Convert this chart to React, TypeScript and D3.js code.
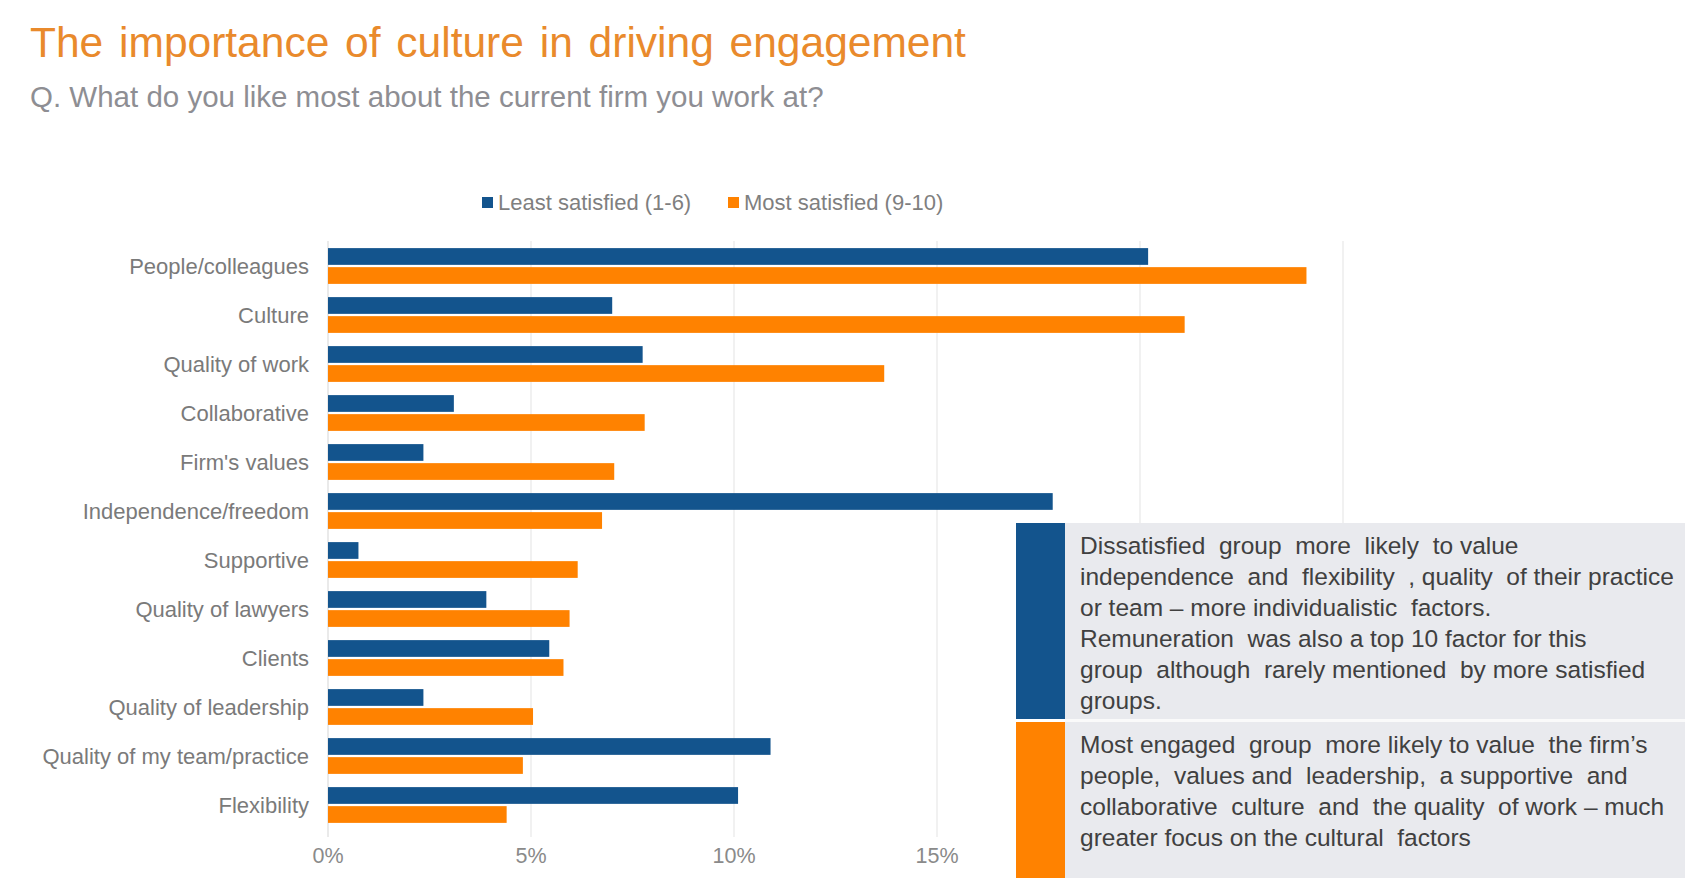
import React from "react";
import * as d3 from "d3";

const categories = [
  "People/colleagues",
  "Culture",
  "Quality of work",
  "Collaborative",
  "Firm's values",
  "Independence/freedom",
  "Supportive",
  "Quality of lawyers",
  "Clients",
  "Quality of leadership",
  "Quality of my team/practice",
  "Flexibility",
];
const leastSatisfied = [20.2, 7.0, 7.75, 3.1, 2.35, 17.85, 0.75, 3.9, 5.45, 2.35, 10.9, 10.1];
const mostSatisfied = [24.1, 21.1, 13.7, 7.8, 7.05, 6.75, 6.15, 5.95, 5.8, 5.05, 4.8, 4.4];
const seriesNames = ["Least satisfied (1-6)", "Most satisfied (9-10)"];
const xTicks = [0, 5, 10, 15, 20, 25];
const xTickLabels = ["0%", "5%", "10%", "15%"];
const calloutTop = [
  "Dissatisfied  group  more  likely  to value",
  "independence  and  flexibility  , quality  of their practice",
  "or team – more individualistic  factors.",
  "Remuneration  was also a top 10 factor for this",
  "group  although  rarely mentioned  by more satisfied",
  "groups.",
];
const calloutBottom = [
  "Most engaged  group  more likely to value  the firm’s",
  "people,  values and  leadership,  a supportive  and",
  "collaborative  culture  and  the quality  of work – much",
  "greater focus on the cultural  factors",
];

const BLUE = "#13548d";
const ORANGE = "#ff8200";
const FONT = "'Liberation Sans', Arial, sans-serif";

export default function App() {
  const W = 1704;
  const H = 895;
  const x = d3.scaleLinear().domain([0, 25]).range([328, 1343]);
  const y = d3.scaleBand<string>().domain(categories).range([241.5, 829.5]).paddingInner(0.27).paddingOuter(0.135);
  const inner = d3.scaleBand<number>().domain([0, 1]).range([0, y.bandwidth()]).paddingInner(0.12).paddingOuter(0);
  const values = [leastSatisfied, mostSatisfied];
  const colors = [BLUE, ORANGE];

  return (
    <svg width={W} height={H} style={{ position: "absolute", left: 0, top: 0, background: "#fff" }} fontFamily={FONT}>
      <rect x={0} y={0} width={W} height={H} fill="#fff" />
      <text x={30} y={57} fontSize={42.5} fill="#e98a2c" wordSpacing={4}>
        The importance of culture in driving engagement
      </text>
      <text x={30} y={107} fontSize={29.5} fill="#8e8e93">
        Q. What do you like most about the current firm you work at?
      </text>

      {/* legend */}
      {seriesNames.map((s, i) => {
        const lx = [482, 728][i];
        return (
          <g key={s}>
            <rect x={lx} y={197} width={11} height={11} fill={colors[i]} />
            <text x={lx + 16} y={210} fontSize={22} fill="#7f7f7f">
              {s}
            </text>
          </g>
        );
      })}

      {/* gridlines */}
      {xTicks.map((t) => (
        <line
          key={t}
          x1={x(t)}
          x2={x(t)}
          y1={241}
          y2={837}
          stroke={t === 0 ? "#dcdcdc" : "#e8e8e8"}
          strokeWidth={1.2}
        />
      ))}

      {/* bars */}
      {categories.map((c, ci) => (
        <g key={c}>
          {values.map((vals, si) => (
            <rect
              key={si}
              x={x(0)}
              y={(y(c) as number) + (inner(si) as number)}
              width={x(vals[ci]) - x(0)}
              height={inner.bandwidth()}
              fill={colors[si]}
            />
          ))}
          <text
            x={309}
            y={(y(c) as number) + y.bandwidth() / 2 + 7.5}
            fontSize={22}
            fill="#7a7a7a"
            textAnchor="end"
          >
            {c}
          </text>
        </g>
      ))}

      {/* x tick labels */}
      {xTickLabels.map((l, i) => (
        <text key={l} x={x(xTicks[i])} y={863} fontSize={21.5} fill="#8a8a8a" textAnchor="middle">
          {l}
        </text>
      ))}

      {/* callout */}
      <rect x={1065} y={523} width={620} height={355} fill="#e9eaee" />
      <rect x={1065} y={719} width={620} height={3} fill="#fafafa" />
      <rect x={1016} y={523} width={49} height={196} fill={BLUE} />
      <rect x={1016} y={722} width={49} height={156} fill={ORANGE} />
      {calloutTop.map((l, i) => (
        <text key={i} x={1080} y={554 + i * 31} fontSize={24.5} fill="#404040" style={{ whiteSpace: "pre" }}>
          {l}
        </text>
      ))}
      {calloutBottom.map((l, i) => (
        <text key={i} x={1080} y={753 + i * 31} fontSize={24.5} fill="#404040" style={{ whiteSpace: "pre" }}>
          {l}
        </text>
      ))}
    </svg>
  );
}
